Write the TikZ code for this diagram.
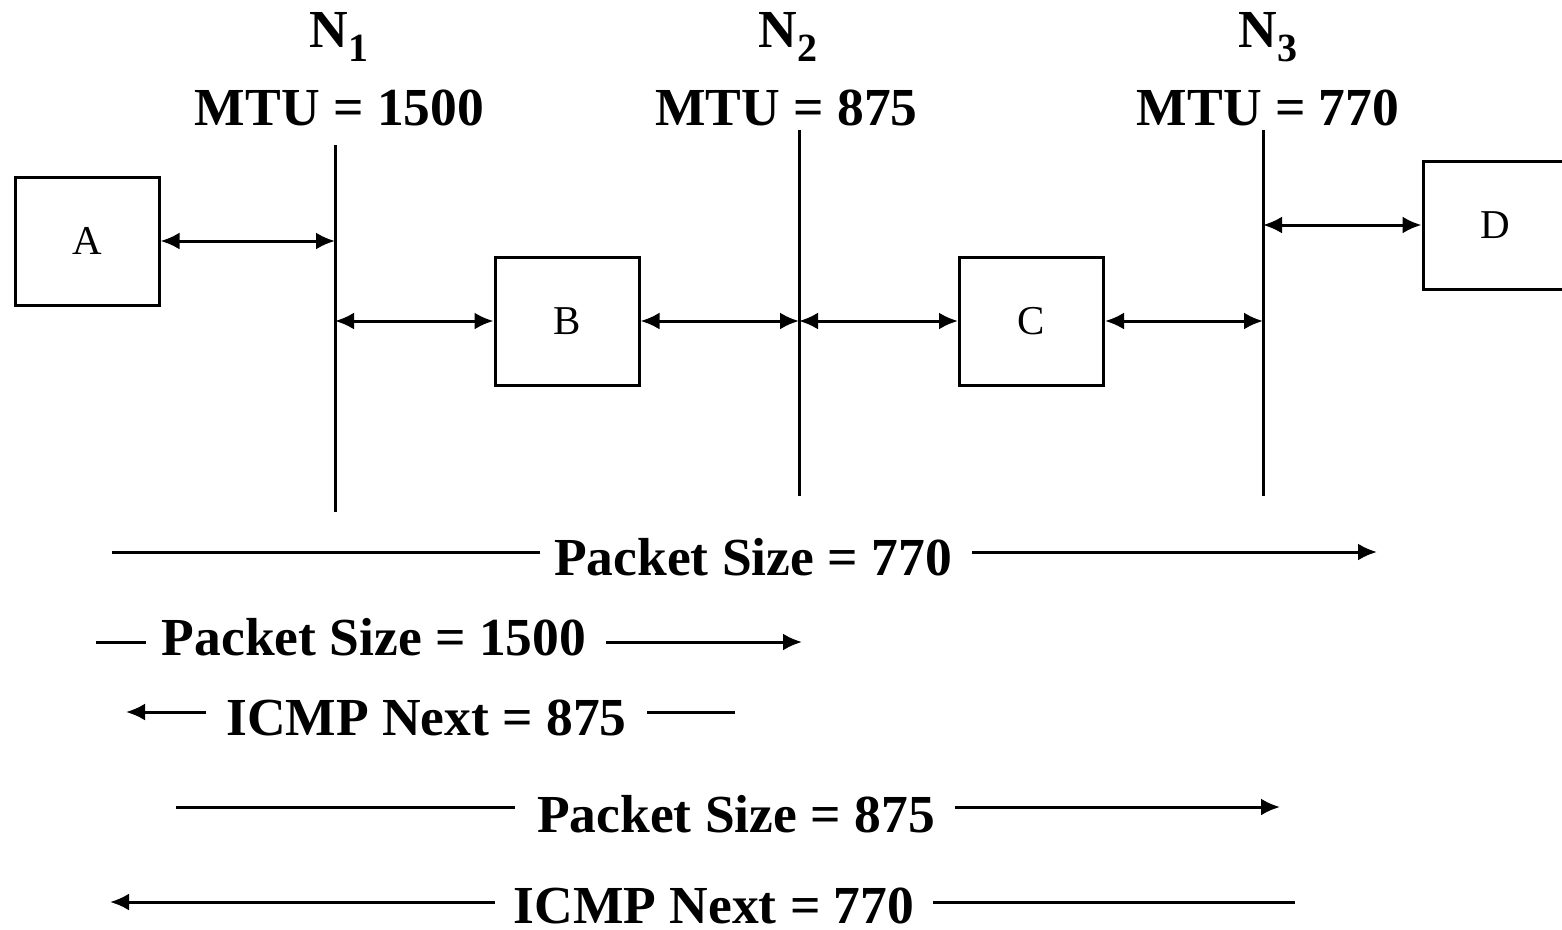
\documentclass[tikz,border=0pt]{standalone}
\usepackage{fontspec}
\setmainfont{Liberation Serif}
\usetikzlibrary{arrows.meta}
\tikzset{
  lw/.style={line width=3pt},
  box/.style={draw, lw, minimum width=144pt, minimum height=128pt, inner sep=0pt,
    font=\fontsize{41}{41}\selectfont},
  big/.style={inner sep=0pt, anchor=base, font=\fontsize{53.5}{54}\selectfont\bfseries},
  net/.style={lw},
  link/.style={lw, {Latex[length=19pt,width=17pt]}-{Latex[length=19pt,width=17pt]}},
  rarr/.style={lw, -{Latex[length=19pt,width=17pt]}},
  larr/.style={lw, {Latex[length=19pt,width=17pt]}-},
  seg/.style={lw},
}
\newcommand{\subnum}[1]{\raisebox{-14pt}{\fontsize{40}{40}\selectfont #1}}
\begin{document}
\begin{tikzpicture}[x=1pt,y=-1pt]
\useasboundingbox (0,0) rectangle (1562,929);
% network labels
\node[big] (n1lab) at (339,47) {N\subnum{1}};
\node[big] (n1mtu) at (339.5,125) {MTU = 1500};
\node[big] (n2lab) at (788,47) {N\subnum{2}};
\node[big] (n2mtu) at (786.5,125) {MTU = 875};
\node[big] (n3lab) at (1268,47) {N\subnum{3}};
\node[big] (n3mtu) at (1268,125) {MTU = 770};
% network lines
\coordinate (n1t) at (335,145); \coordinate (n1b) at (335,512);
\coordinate (n2t) at (799,130); \coordinate (n2b) at (799,496);
\coordinate (n3t) at (1263,130); \coordinate (n3b) at (1263,496);
\draw[net] (n1t) -- (n1b);
\draw[net] (n2t) -- (n2b);
\draw[net] (n3t) -- (n3b);
% hosts / routers
\node[box] (A) at (87,241) {A};
\node[box] (B) at (567,321) {B};
\node[box] (C) at (1031.5,321) {C};
\node[box] (D) at (1495,225) {D};
% links
\draw[link] (A.east) -- (A.east -| n1t);
\draw[link] (B.west -| n1t) -- (B.west);
\draw[link] (B.east) -- (B.east -| n2t);
\draw[link] (C.west -| n2t) -- (C.west);
\draw[link] (C.east) -- (C.east -| n3t);
\draw[link] (D.west -| n3t) -- (D.west);
% row 1
\node[big] (r1) at (753,575) {Packet Size = 770};
\coordinate (r1a) at (112,552); \coordinate (r1b) at (540,552);
\coordinate (r1c) at (972,552); \coordinate (r1d) at (1377,552);
\draw[seg] (r1a) -- (r1b);
\draw[rarr] (r1c) -- (r1d);
% row 2
\node[big] (r2) at (374,655) {Packet Size = 1500};
\coordinate (r2a) at (96,642); \coordinate (r2b) at (146,642);
\coordinate (r2c) at (606,642); \coordinate (r2d) at (802,642);
\draw[seg] (r2a) -- (r2b);
\draw[rarr] (r2c) -- (r2d);
% row 3
\node[big] (r3) at (426.5,735) {ICMP Next = 875};
\coordinate (r3a) at (126,712); \coordinate (r3b) at (206,712);
\coordinate (r3c) at (647,712); \coordinate (r3d) at (735,712);
\draw[larr] (r3a) -- (r3b);
\draw[seg] (r3c) -- (r3d);
% row 4
\node[big] (r4) at (736,832) {Packet Size = 875};
\coordinate (r4a) at (176,807); \coordinate (r4b) at (515,807);
\coordinate (r4c) at (955,807); \coordinate (r4d) at (1280,807);
\draw[seg] (r4a) -- (r4b);
\draw[rarr] (r4c) -- (r4d);
% row 5
\node[big] (r5) at (714,923) {ICMP Next = 770};
\coordinate (r5a) at (110,902); \coordinate (r5b) at (495,902);
\coordinate (r5c) at (933,902); \coordinate (r5d) at (1295,902);
\draw[larr] (r5a) -- (r5b);
\draw[seg] (r5c) -- (r5d);
\end{tikzpicture}
\end{document}
